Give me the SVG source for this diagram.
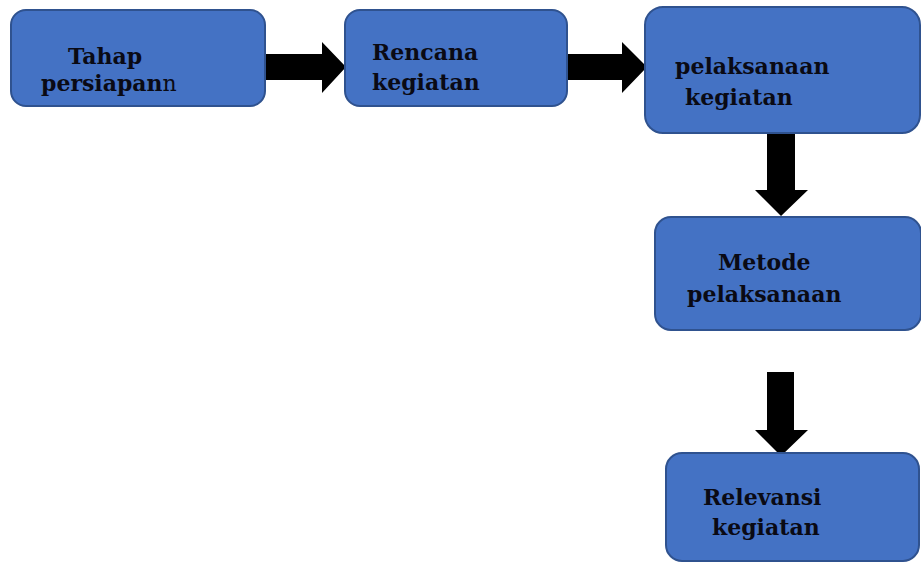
<svg xmlns="http://www.w3.org/2000/svg" width="921" height="562" viewBox="0 0 921 562">
<style>
.box{fill:#4472C4;stroke:#2F528F;stroke-width:2}
.t{font-family:"DejaVu Serif","Liberation Serif",serif;font-weight:bold;font-size:22px;fill:#0a0a14}
.arr{fill:#000}
</style>
<rect width="921" height="562" fill="#fff"/>
<g id="connectors">
<polygon class="arr" points="264,54 322,54 322,42 346,67 322,93 322,80 264,80"/>
<polygon class="arr" points="566,54 622,54 622,42 647,67 622,93 622,80 566,80"/>
<polygon class="arr" points="767,133 795,133 795,190 808,190 781,216 755,190 767,190"/>
<polygon class="arr" points="767,372 794,372 794,430 808,430 781,456 755,430 767,430"/>
</g>
<g id="n1">
<rect class="box" x="11" y="10" width="254" height="96" rx="15"/>
<text class="t" x="68" y="64">Tahap</text>
<text class="t" x="41" y="91">persiapan<tspan font-weight="normal">n</tspan></text>
</g>
<g id="n2">
<rect class="box" x="345" y="10" width="222" height="96" rx="15"/>
<text class="t" x="372" y="60">Rencana</text>
<text class="t" x="372" y="90">kegiatan</text>
</g>
<g id="n3">
<rect class="box" x="645" y="7" width="275" height="126" rx="18"/>
<text class="t" x="675" y="74">pelaksanaan</text>
<text class="t" x="685" y="105">kegiatan</text>
</g>
<g id="n4">
<rect class="box" x="655" y="217" width="266" height="113" rx="16"/>
<text class="t" x="718" y="270">Metode</text>
<text class="t" x="687" y="302">pelaksanaan</text>
</g>
<g id="n5">
<rect class="box" x="666" y="453" width="253" height="108" rx="16"/>
<text class="t" x="703" y="505">Relevansi</text>
<text class="t" x="712" y="535">kegiatan</text>
</g>
</svg>
